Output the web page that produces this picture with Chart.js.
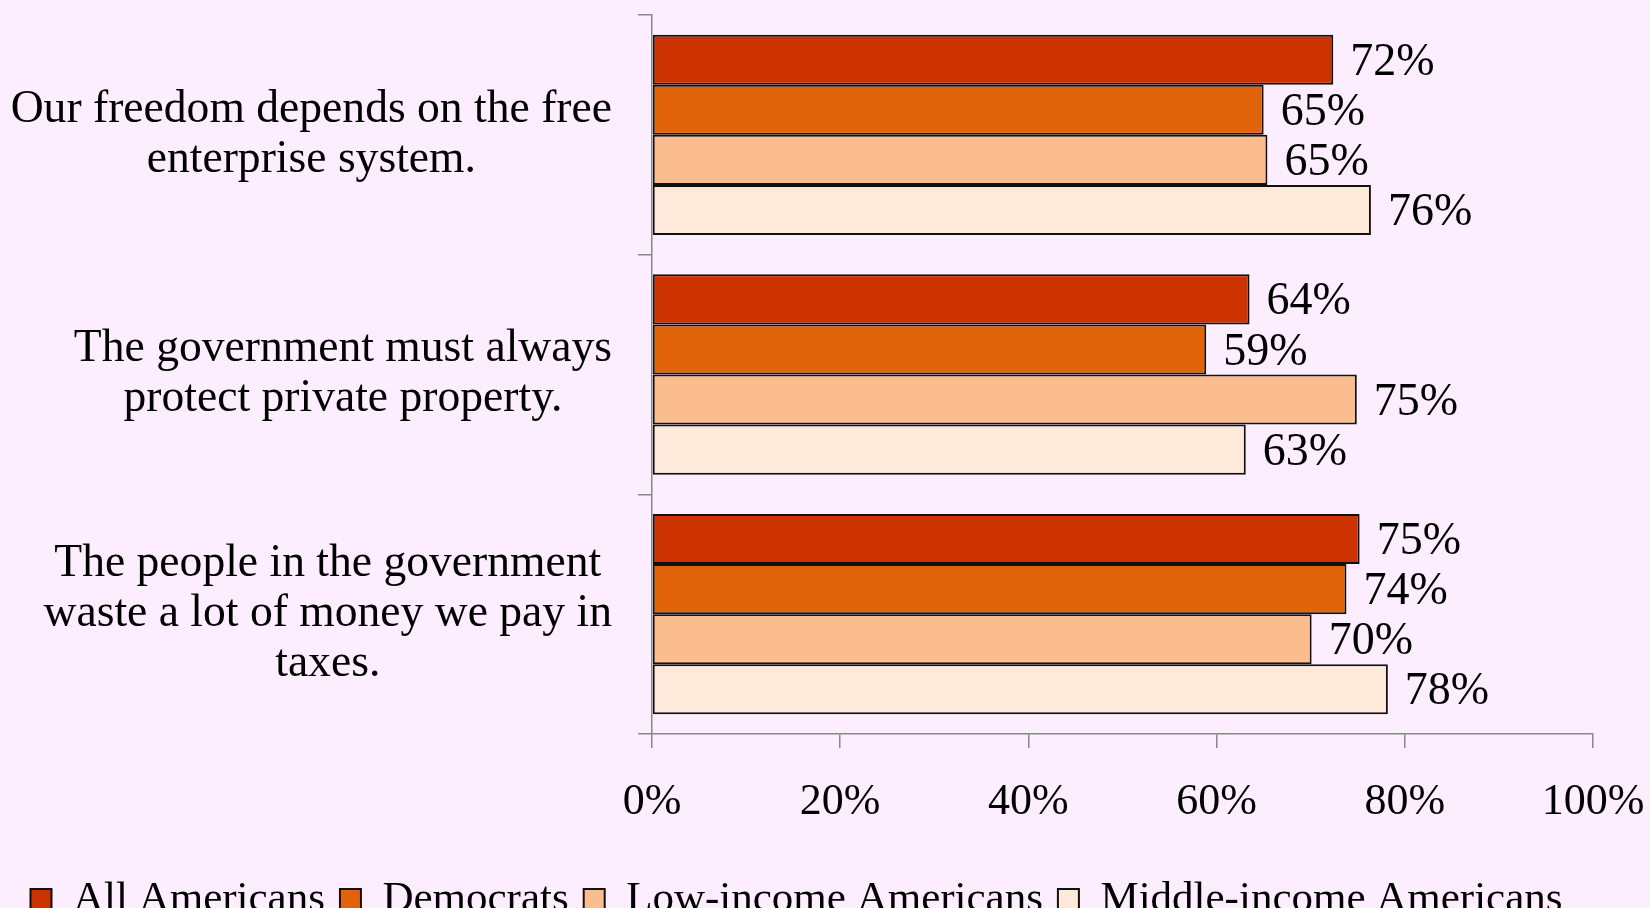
<!DOCTYPE html>
<html>
<head>
<meta charset="utf-8">
<script src="https://cdn.jsdelivr.net/npm/chart.js@4.4.1/dist/chart.umd.min.js"></script>
<style>
  html, body { margin: 0; padding: 0; background: #FCEEFE; overflow: hidden; }
  #wrap { width: 1650px; height: 931px; position: relative; }
</style>
</head>
<body>
<div id="wrap"><canvas id="grafico"></canvas></div>
<script>
// categorias (una linea por elemento)
var categorias = [
    ['Our freedom depends on the free', 'enterprise system.'],
    ['The government must always', 'protect private property.'],
    ['The people in the government', 'waste a lot of money we pay in', 'taxes.']
]
var series = ['All Americans', 'Democrats', 'Low-income Americans', 'Middle-income Americans']
var todos = [72.4, 63.5, 75.2]
var democratas = [65.0, 58.9, 73.8]
var bajos = [65.4, 74.9, 70.1]
var medios = [76.4, 63.1, 78.2]
var etiquetas = [
    ['72%', '64%', '75%'],
    ['65%', '59%', '74%'],
    ['65%', '75%', '70%'],
    ['76%', '63%', '78%']
]
var colores = ['#CC3300', '#E2640A', '#FBBD8D', '#FEE9DA']
var ticksX = [0, 20, 40, 60, 80, 100]

Chart.defaults.font.family = "'Liberation Serif', serif"
Chart.defaults.font.size = 44
Chart.defaults.color = '#000'

// etiquetas de categoria centradas por bloque
var etiquetasY = {
    id: 'etiquetasY',
    afterDraw: function(chart) {
        var ctx = chart.ctx
        var escala = chart.scales.y
        var alto = 50
        ctx.save()
        ctx.font = "45.6px 'Liberation Serif', serif"
        ctx.fillStyle = '#000'
        ctx.textAlign = 'center'
        ctx.textBaseline = 'middle'
        categorias.forEach(function(lineas, i) {
            var maximo = 0
            lineas.forEach(function(l) { maximo = Math.max(maximo, ctx.measureText(l).width) })
            var derecha = escala.right - 40
            var cx = derecha - maximo / 2
            var cy = escala.getPixelForTick(i)
            var y0 = cy - (lineas.length - 1) * alto / 2
            lineas.forEach(function(l, k) { ctx.fillText(l, cx, y0 + k * alto) })
        })
        ctx.restore()
    }
}

// porcentajes al final de cada barra
var valores = {
    id: 'valores',
    afterDatasetsDraw: function(chart) {
        var ctx = chart.ctx
        ctx.save()
        ctx.font = "46px 'Liberation Serif', serif"
        ctx.fillStyle = '#000'
        ctx.textAlign = 'left'
        ctx.textBaseline = 'middle'
        chart.data.datasets.forEach(function(ds, i) {
            chart.getDatasetMeta(i).data.forEach(function(barra, j) {
                ctx.fillText(etiquetas[i][j], barra.x + 17, barra.y + 3)
            })
        })
        ctx.restore()
    }
}

var datos = [todos, democratas, bajos, medios]

var mychart = new Chart(document.getElementById('grafico'), {
    type: 'bar',
    data: {
        labels: categorias,
        datasets: series.map(function(nombre, i) {
            return {
                label: nombre,
                data: datos[i],
                backgroundColor: colores[i],
                borderColor: '#111',
                borderWidth: 2,
                borderSkipped: false,
                categoryPercentage: 0.836,
                barPercentage: 1
            }
        })
    },
    options: {
        indexAxis: 'y',
        responsive: true,
        maintainAspectRatio: false,
        animation: false,
        layout: { padding: { top: 15, right: 57, left: 0, bottom: 0 } },
        scales: {
            x: {
                min: 0,
                max: 100,
                afterBuildTicks: function(escala) {
                    escala.ticks = ticksX.map(function(v) { return { value: v } })
                },
                afterFit: function(escala) {
                    escala.height = 129
                    escala.paddingLeft = 0
                    escala.paddingRight = 0
                },
                ticks: {
                    padding: 28,
                    callback: function(v) { return v + '%' }
                },
                grid: {
                    drawOnChartArea: false,
                    color: '#888',
                    tickLength: 14,
                    lineWidth: 1.5
                },
                border: { color: '#888', width: 1.5 }
            },
            y: {
                afterFit: function(escala) { escala.width = 652 },
                ticks: { display: false },
                grid: {
                    drawOnChartArea: false,
                    color: '#888',
                    tickLength: 14,
                    lineWidth: 1.5,
                    offset: true
                },
                border: { color: '#888', width: 1.5 }
            }
        },
        plugins: {
            tooltip: { enabled: false },
            legend: {
                position: 'bottom',
                labels: {
                    boxWidth: 21,
                    boxHeight: 21,
                    padding: 15,
                    font: { size: 43 }
                }
            }
        }
    },
    plugins: [etiquetasY, valores]
})
</script>
</body>
</html>
